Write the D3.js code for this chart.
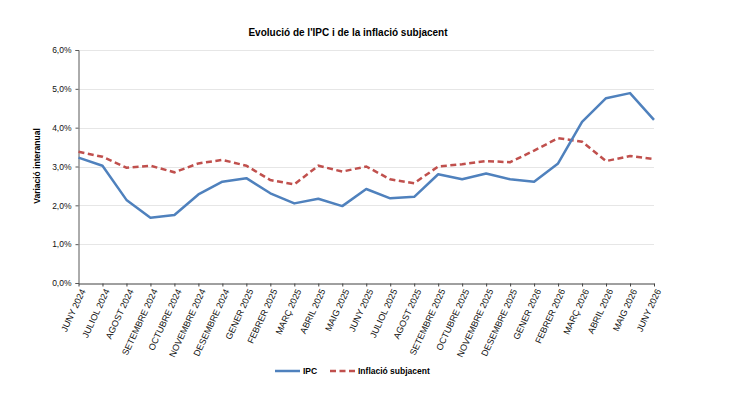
<!DOCTYPE html>
<html>
<head>
<meta charset="utf-8">
<script src="https://cdn.jsdelivr.net/npm/d3@7"></script>
<style>
  body { margin: 0; background: #fff; }
  text { font-family: "Liberation Sans", Arial, sans-serif; }
</style>
</head>
<body>
<div id="container"></div>
<script>
const months = ['JUNY 2024', 'JULIOL 2024', 'AGOST 2024', 'SETEMBRE 2024', 'OCTUBRE 2024', 'NOVEMBRE 2024',
    'DESEMBRE 2024', 'GENER 2025', 'FEBRER 2025', 'MARÇ 2025', 'ABRIL 2025', 'MAIG 2025', 'JUNY 2025',
    'JULIOL 2025', 'AGOST 2025', 'SETEMBRE 2025', 'OCTUBRE 2025', 'NOVEMBRE 2025', 'DESEMBRE 2025',
    'GENER 2026', 'FEBRER 2026', 'MARÇ 2026', 'ABRIL 2026', 'MAIG 2026', 'JUNY 2026'];

const ipc = [3.23, 3.02, 2.14, 1.68, 1.75, 2.28, 2.61, 2.70, 2.31, 2.05, 2.17, 1.98, 2.42,
    2.18, 2.22, 2.80, 2.67, 2.82, 2.67, 2.61, 3.08, 4.15, 4.76, 4.89, 4.20];

const subjacent = [3.38, 3.25, 2.97, 3.02, 2.85, 3.08, 3.17, 3.02, 2.65, 2.54, 3.02, 2.87, 3.00,
    2.67, 2.57, 3.00, 3.06, 3.14, 3.11, 3.41, 3.73, 3.64, 3.14, 3.27, 3.19];

const yTicks = [0, 1, 2, 3, 4, 5, 6];

const seriesNames = ['IPC', 'Inflació subjacent'];
const colors = ['#4F81BD', '#C0504D'];

const width = 740, height = 417;

const svg = d3.select('#container')
    .append('svg')
    .attr('width', width)
    .attr('height', height);

const xScale = d3.scalePoint().domain(months).range([78.5, 654]);
const yScale = d3.scaleLinear().domain([0, 6]).range([283, 50]);

// title
svg.append('text')
    .attr('x', 348)
    .attr('y', 36)
    .attr('text-anchor', 'middle')
    .style('font-size', '10px')
    .style('font-weight', 'bold')
    .text("Evolució de l'IPC i de la inflació subjacent");

// gridlines
svg.append('g')
    .selectAll('line')
    .data(yTicks.filter(d => d > 0))
    .enter()
    .append('line')
    .attr('x1', 78.5)
    .attr('x2', 654)
    .attr('y1', d => Math.round(yScale(d)) + 0.5)
    .attr('y2', d => Math.round(yScale(d)) + 0.5)
    .style('stroke', '#e6e6e6')
    .style('stroke-width', 1);

// y axis
const yAxis = d3.axisLeft(yScale)
    .tickValues(yTicks)
    .tickSize(3)
    .tickPadding(4)
    .tickFormat(d => d3.format('.1f')(d).replace('.', ',') + '%');

svg.append('g')
    .attr('transform', 'translate(78.5,0)')
    .call(yAxis)
    .call(g => g.select('.domain').attr('stroke', '#595959'))
    .call(g => g.selectAll('.tick line').attr('stroke', '#595959'))
    .call(g => g.selectAll('text')
        .style('font-size', '8.5px')
        .style('font-family', '"Liberation Sans", Arial, sans-serif')
        .attr('fill', '#111'));

// x axis
const xAxis = d3.axisBottom(xScale)
    .tickSize(3)
    .tickSizeOuter(0);

svg.append('g')
    .attr('transform', 'translate(0,283.5)')
    .call(xAxis)
    .call(g => g.select('.domain').attr('stroke', '#404040'))
    .call(g => g.selectAll('.tick line').attr('stroke', '#404040'))
    .call(g => g.selectAll('text')
        .style('font-size', '9px')
        .style('font-family', '"Liberation Sans", Arial, sans-serif')
        .attr('fill', '#111')
        .attr('text-anchor', 'end')
        .attr('dy', '0.35em')
        .attr('transform', 'translate(4,6) rotate(-65)')
        .attr('y', 0)
        .attr('x', 0));

// y axis title
svg.append('text')
    .attr('transform', 'translate(40,166) rotate(-90)')
    .attr('text-anchor', 'middle')
    .style('font-size', '8.5px')
    .style('font-weight', 'bold')
    .text('Variació interanual');

// lines
const line = d3.line()
    .x((d, i) => xScale(months[i]))
    .y(d => yScale(d));

svg.append('path')
    .datum(subjacent)
    .attr('d', line)
    .style('fill', 'none')
    .style('stroke', colors[1])
    .style('stroke-width', 2.5)
    .style('stroke-dasharray', '6,3.5');

svg.append('path')
    .datum(ipc)
    .attr('d', line)
    .style('fill', 'none')
    .style('stroke', colors[0])
    .style('stroke-width', 2.5)
    .style('stroke-linejoin', 'round');

// legend
const legend = svg.append('g').attr('transform', 'translate(0,371)');
const legendX = [275, 330];

seriesNames.forEach((name, i) => {
    legend.append('line')
        .attr('x1', legendX[i])
        .attr('x2', legendX[i] + 25)
        .attr('y1', 0)
        .attr('y2', 0)
        .style('stroke', colors[i])
        .style('stroke-width', 2.5)
        .style('stroke-dasharray', i === 1 ? '6,3.5' : null);
    legend.append('text')
        .attr('x', legendX[i] + 28)
        .attr('y', 3)
        .style('font-size', '8.5px')
        .style('font-weight', 'bold')
        .text(name);
});
</script>
</body>
</html>
